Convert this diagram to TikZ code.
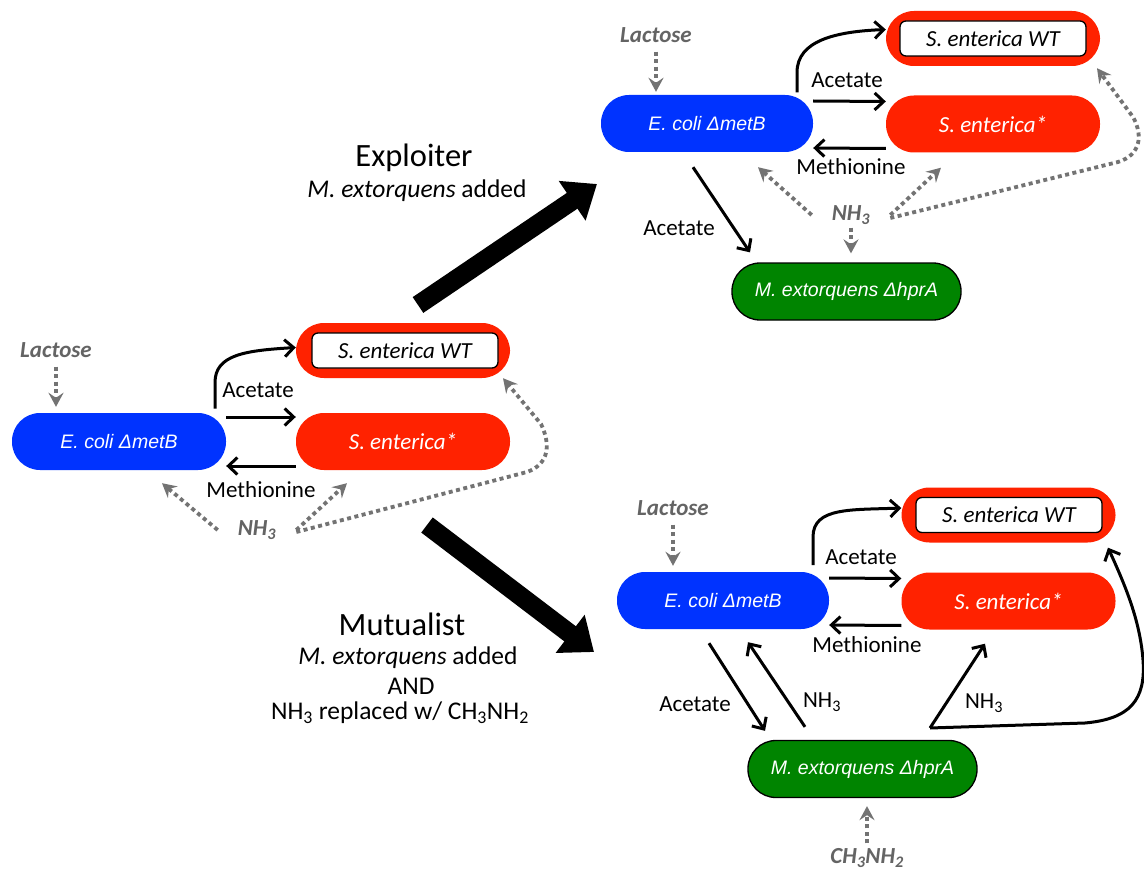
\documentclass[tikz,border=0pt]{standalone}
\usepackage{fontspec}
\setmainfont{Carlito}
\newfontfamily\arialf{Liberation Sans}
\usetikzlibrary{arrows.meta}
\definecolor{ecblue}{RGB}{0,51,255}
\definecolor{sred}{RGB}{255,34,0}
\definecolor{mxgreen}{RGB}{0,132,0}
\definecolor{gry}{RGB}{100,100,100}
\definecolor{gryl}{RGB}{115,115,115}
\begin{document}
\begin{tikzpicture}[x=1pt,y=-1pt,
  pill/.style={rounded corners=28pt, minimum width=214pt, minimum height=57pt, inner sep=0pt,
    font=\arialf\itshape\fontsize{19.5}{22}\selectfont, text=white},
  ecpill/.style={pill, fill=ecblue},
  stpill/.style={pill, fill=sred, font=\itshape\fontsize{23}{26}\selectfont},
  wtpill/.style={pill, fill=sred, minimum height=55pt},
  wtin/.style={draw=black, line width=1.3pt, fill=white, rounded corners=6pt, minimum width=186pt,
    minimum height=35pt, inner sep=0pt, font=\itshape\fontsize{23}{26}\selectfont, text=black},
  mxpill/.style={pill, fill=mxgreen, draw=black, line width=1.3pt, minimum width=229pt},
  lbl/.style={font=\fontsize{23}{27}\selectfont, inner sep=0pt},
  glbl/.style={font=\bfseries\itshape\fontsize{23}{27}\selectfont, text=gry, inner sep=0pt},
  nhlbl/.style={glbl, inner xsep=20pt},
  blk/.style={draw=black, line width=3pt, -{Straight Barb[length=9pt,width=17pt]}},
  gdash/.style={draw=gryl, line width=3.8pt, dash pattern=on 4pt off 3.5pt,
    -{Stealth[length=14pt,width=15pt,inset=5pt]}},
  bigarrow/.style={draw=black, line width=19pt, -{Triangle[length=30pt,width=46pt]}},
  ttl/.style={font=\fontsize{32.5}{36}\selectfont, inner sep=0pt},
  sttl/.style={font=\fontsize{25.5}{30}\selectfont, inner sep=0pt}
]
\useasboundingbox[fill=white] (0,0) rectangle (1144,872);

% ---------------- left diagram ----------------
\node[ecpill] (ec1) at (119,441.5) {E. coli ΔmetB};
\node[wtpill] (wt1) at (403,350.5) {};
\node[wtin] (wt1i) at (405,350.5) {S. enterica WT};
\node[stpill] (st1) at (403,441.5) {S. enterica*};
\node[glbl] (lac1) at (56,350) {Lactose};
\node[lbl] (ac1) at (258,390) {Acetate};
\node[lbl] (me1) at (261,490) {Methionine};
\node[nhlbl] (nh1) at (257,530) {NH\textsubscript{3}};

\draw[gdash, shorten <=9pt, shorten >=6pt] (lac1.south) -- (lac1.south |- ec1.north);
\draw[blk] ([xshift=96pt,yshift=33pt]ec1.center) -- ++(0,-26) .. controls +(0,-28) and +(-50,3) .. ([yshift=3pt]wt1.west);
\draw[blk] ([yshift=24.5pt]ec1.east) -- ([yshift=24.5pt]st1.west);
\draw[blk] ([yshift=-24.5pt]st1.west) -- ([yshift=-24.5pt]ec1.east);
\draw[gdash] (nh1.west) -- ([xshift=43pt,yshift=-13pt]ec1.south);
\draw[gdash] (nh1.east) -- ([xshift=-56pt,yshift=-13pt]st1.south);
\draw[gdash] ([yshift=-2pt]nh1.east) -- (527,472) .. controls (549,464) and (551,445) .. (541,424) -- ([xshift=100pt]wt1.south);

% ---------------- big arrows and titles ----------------
\coordinate (bt1) at (418,305);
\coordinate (bh1) at (597,184);
\coordinate (bt2) at (427,525);
\coordinate (bh2) at (594,652);
\draw[bigarrow] (bt1) -- (bh1);
\draw[bigarrow] (bt2) -- (bh2);
\node[ttl] (t1) at (414,158) {Exploiter};
\node[sttl] (t1b) at (417,191) {\textit{M. extorquens} added};
\node[ttl] (t2) at (402,624) {Mutualist};
\node[sttl] (t2b) at (408,658) {\textit{M. extorquens} added};
\node[sttl] (t2c) at (411,686) {AND};
\node[sttl] (t2d) at (400,713) {NH\textsubscript{3} replaced w/ CH\textsubscript{3}NH\textsubscript{2}};

% ---------------- top-right diagram ----------------
\node[ecpill, minimum width=212pt] (ec2) at (707,123.5) {E. coli ΔmetB};
\node[wtpill] (wt2) at (993,38.5) {};
\node[wtin] (wt2i) at (993,38.5) {S. enterica WT};
\node[stpill] (st2) at (993,124) {S. enterica*};
\node[mxpill] (mx2) at (846.5,291.5) {M. extorquens ΔhprA};
\node[glbl] (lac2) at (656,35) {Lactose};
\node[lbl] (ac2) at (847,80) {Acetate};
\node[lbl] (me2) at (851,167) {Methionine};
\node[lbl] (ac2b) at (679,228) {Acetate};
\node[nhlbl] (nh2) at (851,215) {NH\textsubscript{3}};

\draw[gdash, shorten <=9pt, shorten >=3pt] (lac2.south) -- (lac2.south |- ec2.north);
\draw[blk] ([xshift=90pt,yshift=31pt]ec2.center) -- ++(0,-20) .. controls +(0,-32) and +(-50,2) .. ([yshift=9pt]wt2.west);
\draw[blk] ([yshift=22.5pt]ec2.east) -- ([yshift=22.5pt]st2.west);
\draw[blk] ([yshift=-24.5pt]st2.west) -- ([yshift=-24.5pt]ec2.east);
\draw[blk] ([xshift=-14pt,yshift=-15pt]ec2.south) -- ([xshift=-96.5pt,yshift=10pt]mx2.north);
\draw[gdash] (nh2.west) -- ([xshift=51pt,yshift=-15pt]ec2.south);
\draw[gdash] (nh2.east) -- ([xshift=-52pt,yshift=-15pt]st2.south);
\draw[gdash] ([yshift=-3pt]nh2.east) -- (1118,162) .. controls (1141,155) and (1143,135) .. (1133,117) -- ([xshift=104pt,yshift=-2pt]wt2.south);
\draw[gdash, shorten <=3pt, shorten >=9pt] (nh2.south) -- (nh2.south |- mx2.north);

% ---------------- bottom-right diagram ----------------
\node[ecpill, minimum width=212pt] (ec3) at (723,600.5) {E. coli ΔmetB};
\node[wtpill] (wt3) at (1008.5,515) {};
\node[wtin] (wt3i) at (1009,515) {S. enterica WT};
\node[stpill] (st3) at (1008.5,601) {S. enterica*};
\node[mxpill] (mx3) at (862.5,769) {M. extorquens ΔhprA};
\node[glbl] (lac3) at (673,508) {Lactose};
\node[lbl] (ac3) at (861,557) {Acetate};
\node[lbl] (me3) at (867,645) {Methionine};
\node[lbl] (ac3b) at (695,704) {Acetate};
\node[lbl] (nh3a) at (822,702) {NH\textsubscript{3}};
\node[lbl] (nh3b) at (984,703) {NH\textsubscript{3}};
\node[glbl] (ch3) at (867,858) {CH\textsubscript{3}NH\textsubscript{2}};
\coordinate (j3) at (930,728);

\draw[gdash, shorten <=9pt, shorten >=6pt] (lac3.south) -- (lac3.south |- ec3.north);
\draw[blk] ([xshift=90pt,yshift=35.5pt]ec3.center) -- ++(0,-28) .. controls +(0,-30) and +(-50,2) .. ([yshift=7pt]wt3.west);
\draw[blk] ([yshift=22.5pt]ec3.east) -- ([yshift=22.5pt]st3.west);
\draw[blk] ([yshift=-24.5pt]st3.west) -- ([yshift=-24.5pt]ec3.east);
\draw[blk] ([xshift=-14pt,yshift=-14pt]ec3.south) -- ([xshift=-97.5pt,yshift=9pt]mx3.north);
\draw[blk] ([xshift=-57.5pt,yshift=13pt]mx3.north) -- ([xshift=25pt,yshift=-13pt]ec3.south);
\draw[blk] (j3) -- ([xshift=-23.5pt,yshift=-14pt]st3.south);
\draw[blk] (j3) -- (1085,723) .. controls (1130,719) and (1146,700) .. (1143,660) .. controls (1140,620) and (1125,585) .. ([xshift=99.5pt,yshift=-5pt]wt3.south);
\draw[gdash, shorten <=5pt, shorten >=8pt] (ch3.north) -- (ch3.north |- mx3.south);
\end{tikzpicture}
\end{document}
